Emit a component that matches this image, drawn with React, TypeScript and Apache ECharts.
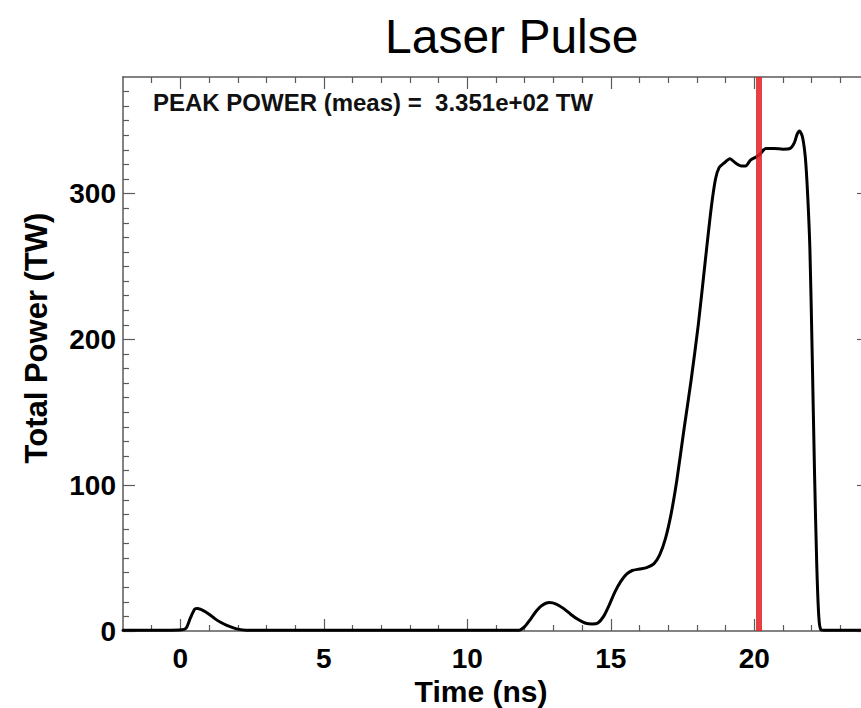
import React, { useEffect, useRef } from "react";
import * as echarts from "echarts";

const TITLE = "Laser Pulse";
const X_NAME = "Time (ns)";
const Y_NAME = "Total Power (TW)";
const PEAK_NOTE = "PEAK POWER (meas) =  3.351e+02 TW";

const TIME = [
  -2, -0.5, 0.05, 0.2, 0.35, 0.5, 0.6, 0.8, 1.0, 1.2, 1.4, 1.6, 1.8, 2.0, 2.3, 5, 9, 11.8,
  12.0, 12.2, 12.4, 12.6, 12.85, 13.1, 13.35, 13.6, 13.85, 14.1, 14.35, 14.55, 14.75, 14.95,
  15.15, 15.35, 15.55, 15.75, 16.0, 16.25, 16.5, 16.7, 16.9, 17.1, 17.3, 17.55, 17.8, 18.05,
  18.3, 18.5, 18.65, 18.78, 18.95, 19.15, 19.35, 19.55, 19.7, 19.87, 20.05, 20.2, 20.4,
  20.7, 21.0, 21.25, 21.4, 21.5, 21.58, 21.68, 21.78, 21.86, 21.94, 22.02, 22.1, 22.18,
  22.25, 22.32, 22.5, 24,
];
const POWER = [
  0.5, 0.5, 0.8, 2, 9, 15, 15.5, 14, 11.5, 8.5, 6, 4, 2.5, 1.3, 0.6, 0.5, 0.5, 0.6,
  3, 8, 13.5, 17.5, 19.5, 18.5, 15.5, 11.5, 8, 5.5, 4.8, 5.5, 10, 18,
  27, 34, 39, 41.5, 42.5, 43.5, 46, 52, 63, 80, 103, 138, 172, 210,
  255, 290, 310, 318, 321, 324, 321, 319, 319, 323, 325, 327, 331,
  331, 330.5, 331, 335, 341, 343, 339, 325, 300, 262, 190, 110, 45,
  10, 1, 0.5, 0.5,
];

const X_MAJOR = [0, 5, 10, 15, 20];
const X_MINOR = [-1, 1, 2, 3, 4, 6, 7, 8, 9, 11, 12, 13, 14, 16, 17, 18, 19, 21, 22, 23];
const Y_MAJOR = [0, 100, 200, 300];
const Y_MINOR = [
  10, 20, 30, 40, 50, 60, 70, 80, 90, 110, 120, 130, 140, 150, 160, 170, 180, 190,
  210, 220, 230, 240, 250, 260, 270, 280, 290, 310, 320, 330, 340, 350, 360, 370,
];
const MARKER_TIME = 20.15;

const X_MIN = -2;
const X_MAX = 24;
const Y_MIN = 0;
const Y_MAX = 380;

const FONT = '"Liberation Sans", Arial, Helvetica, sans-serif';
const AXIS_COLOR = "#5a5a5a";

export default function App() {
  const ref = useRef<HTMLDivElement>(null);

  useEffect(() => {
    document.body.style.margin = "0";
    const chart = echarts.init(ref.current!, undefined, { renderer: "svg" });

    const lineStyle = { color: AXIS_COLOR, width: 1.5 };

    const xAxisBase = (position: string, major: boolean, showLine: boolean) => ({
      type: "value",
      min: X_MIN,
      max: X_MAX,
      position,
      axisLine: { show: showLine, onZero: false, lineStyle },
      axisTick: {
        show: true,
        inside: true,
        length: major ? 12 : 6,
        customValues: major ? X_MAJOR : X_MINOR,
        lineStyle: { color: AXIS_COLOR, width: 1.2 },
      },
      axisLabel: { show: false },
      splitLine: { show: false },
    });
    const yAxisBase = (position: string, major: boolean, showLine: boolean) => ({
      type: "value",
      min: Y_MIN,
      max: Y_MAX,
      position,
      axisLine: { show: showLine, onZero: false, lineStyle },
      axisTick: {
        show: true,
        inside: true,
        length: major ? 12 : 6,
        customValues: major ? Y_MAJOR : Y_MINOR,
        lineStyle: { color: AXIS_COLOR, width: 1.2 },
      },
      axisLabel: { show: false },
      splitLine: { show: false },
    });

    const xMain: any = xAxisBase("bottom", true, true);
    xMain.axisLabel = {
      show: true,
      customValues: X_MAJOR,
      fontSize: 28,
      fontWeight: "bold",
      fontFamily: FONT,
      color: "#000",
      margin: 13,
    };
    xMain.name = X_NAME;
    xMain.nameLocation = "middle";
    xMain.nameGap = 42;
    xMain.nameTextStyle = {
      fontSize: 30,
      fontWeight: "bold",
      fontFamily: FONT,
      color: "#000",
      padding: [0, 30, 0, 0],
    };

    const yMain: any = yAxisBase("left", true, true);
    yMain.axisLabel = {
      show: true,
      customValues: Y_MAJOR,
      fontSize: 28,
      fontWeight: "bold",
      fontFamily: FONT,
      color: "#000",
      margin: 7,
    };
    yMain.name = Y_NAME;
    yMain.nameLocation = "middle";
    yMain.nameGap = 71;
    yMain.nameTextStyle = {
      fontSize: 31,
      fontWeight: "bold",
      fontFamily: FONT,
      color: "#000",
      padding: [0, 0, 0, 32],
    };

    const data = TIME.map((t, i) => [t, POWER[i]]);

    chart.setOption({
      animation: false,
      backgroundColor: "#ffffff",
      title: {
        text: TITLE,
        left: 380,
        top: 7,
        textStyle: { fontSize: 48, fontWeight: "normal", fontFamily: FONT, color: "#000" },
      },
      grid: { left: 123, right: -8, top: 77, bottom: 77, outerBoundsMode: "none", containLabel: false },
      xAxis: [
        xMain,
        xAxisBase("bottom", false, false),
        xAxisBase("top", true, true),
        xAxisBase("top", false, false),
      ],
      yAxis: [
        yMain,
        yAxisBase("left", false, false),
        yAxisBase("right", true, true),
        yAxisBase("right", false, false),
      ],
      graphic: [
        {
          type: "text",
          left: 153,
          top: 90,
          style: { text: PEAK_NOTE, font: `bold 24px ${FONT}`, fill: "#111" },
        },
      ],
      series: [
        {
          type: "line",
          xAxisIndex: 0,
          yAxisIndex: 0,
          data,
          showSymbol: false,
          smooth: 0.25,
          lineStyle: { color: "#000", width: 3, join: "round", cap: "round" },
          z: 3,
          markLine: {
            silent: true,
            symbol: ["none", "none"],
            label: { show: false },
            z: 5,
            lineStyle: { color: "rgba(226,30,36,0.85)", width: 6, type: "solid" },
            data: [{ xAxis: MARKER_TIME }],
          },
        },
      ],
    });

    return () => chart.dispose();
  }, []);

  return <div ref={ref} style={{ width: 861, height: 708 }} />;
}
